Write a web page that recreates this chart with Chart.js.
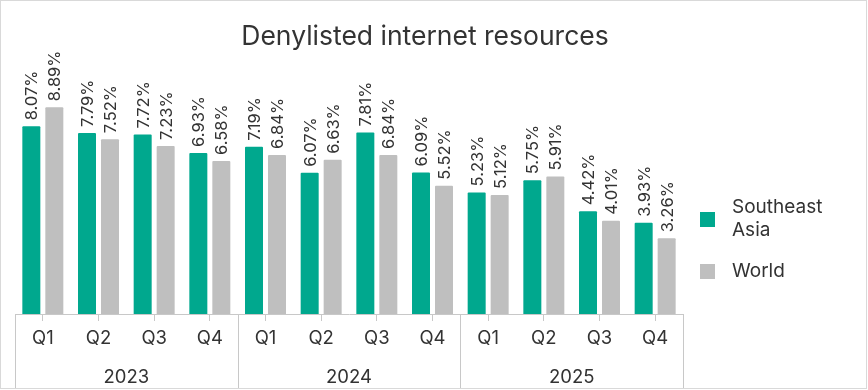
<!DOCTYPE html>
<html>
<head>
<meta charset="utf-8">
<script src="https://cdn.jsdelivr.net/npm/chart.js@4"></script>
<style>
  body { margin: 0; background: #fff; }
  #wrap { width: 868px; height: 390px; position: relative; }
</style>
</head>
<body>
<div id="wrap"><canvas id="chart"></canvas></div>
<script>
const quarters = ["Q1", "Q2", "Q3", "Q4", "Q1", "Q2", "Q3", "Q4", "Q1", "Q2", "Q3", "Q4"];
const years = ["2023", "2024", "2025"];
const southeastAsia = [8.07, 7.79, 7.72, 6.93, 7.19, 6.07, 7.81, 6.09, 5.23, 5.75, 4.42, 3.93];
const world = [8.89, 7.52, 7.23, 6.58, 6.84, 6.63, 6.84, 5.52, 5.12, 5.91, 4.01, 3.26];

const FONT = "Inter";
const TEXT = "#333333";
const LINE = "#c8c8c8";

const extras = {
  id: "extras",
  afterDraw(chart) {
    const ctx = chart.ctx;
    const x = chart.scales.x;
    const area = chart.chartArea;
    ctx.save();

    // frame
    ctx.strokeStyle = "#d9d9d9";
    ctx.lineWidth = 1;
    ctx.strokeRect(0.5, 0.5, chart.width - 2, chart.height - 2);

    // title
    ctx.fillStyle = "#333";
    ctx.font = "26.5px " + FONT;
    ctx.textAlign = "center";
    ctx.textBaseline = "middle";
    ctx.fillText("Denylisted internet resources", 425, 37);

    // value labels
    ctx.font = "16.5px " + FONT;
    ctx.fillStyle = TEXT;
    chart.data.datasets.forEach((ds, di) => {
      chart.getDatasetMeta(di).data.forEach((bar, i) => {
        ctx.save();
        ctx.translate(bar.x, bar.y - 6);
        ctx.rotate(-Math.PI / 2);
        ctx.textAlign = "left";
        ctx.textBaseline = "middle";
        ctx.fillText(ds.data[i].toFixed(2) + "%", 0, 1);
        ctx.restore();
      });
    });

    // year separators and labels
    const step = (x.getPixelForValue(1) - x.getPixelForValue(0));
    ctx.strokeStyle = LINE;
    for (let g = 0; g <= years.length; g++) {
      const px = Math.round(x.getPixelForValue(g * 4) - step / 2) + 0.5;
      ctx.beginPath();
      ctx.moveTo(px, area.bottom);
      ctx.lineTo(px, chart.height - 2);
      ctx.stroke();
    }
    ctx.font = "18.5px " + FONT;
    ctx.fillStyle = TEXT;
    ctx.textAlign = "center";
    years.forEach((y, g) => {
      const cx = (x.getPixelForValue(g * 4) + x.getPixelForValue(g * 4 + 3)) / 2;
      ctx.fillText(y, cx, 377);
    });

    // legend
    const items = [
      { lines: ["Southeast", "Asia"], color: "#00a88e", y: 219 },
      { lines: ["World"], color: "#bfbfbf", y: 271 }
    ];
    ctx.font = "19px " + FONT;
    ctx.textAlign = "left";
    items.forEach(it => {
      ctx.fillStyle = it.color;
      ctx.fillRect(700, it.y - 7, 15, 15);
      ctx.fillStyle = TEXT;
      const off = (it.lines.length - 1) * 23 / 2;
      it.lines.forEach((t, k) => ctx.fillText(t, 732, it.y - off + k * 23));
    });
    ctx.restore();
  }
};

new Chart(document.getElementById("chart"), {
  type: "bar",
  data: {
    labels: quarters,
    datasets: [
      { label: "Southeast Asia", data: southeastAsia, backgroundColor: "#00a88e", borderRadius: 1 },
      { label: "World", data: world, backgroundColor: "#bfbfbf", borderRadius: 1 }
    ]
  },
  options: {
    responsive: true,
    maintainAspectRatio: false,
    animation: false,
    categoryPercentage: 0.826,
    barPercentage: 0.783,
    layout: { padding: { left: 15, right: 185, top: 81.5, bottom: 2 } },
    plugins: {
      legend: { display: false },
      tooltip: { enabled: false }
    },
    scales: {
      y: { display: false, min: 0, max: 10 },
      x: {
        afterFit(scale) { scale.height = 74; },
        grid: { offset: false, drawOnChartArea: false, color: LINE, tickLength: 7 },
        border: { color: LINE },
        ticks: { color: TEXT, font: { family: FONT, size: 18.5 }, padding: 6 }
      }
    }
  },
  plugins: [extras]
});
</script>
</body>
</html>
